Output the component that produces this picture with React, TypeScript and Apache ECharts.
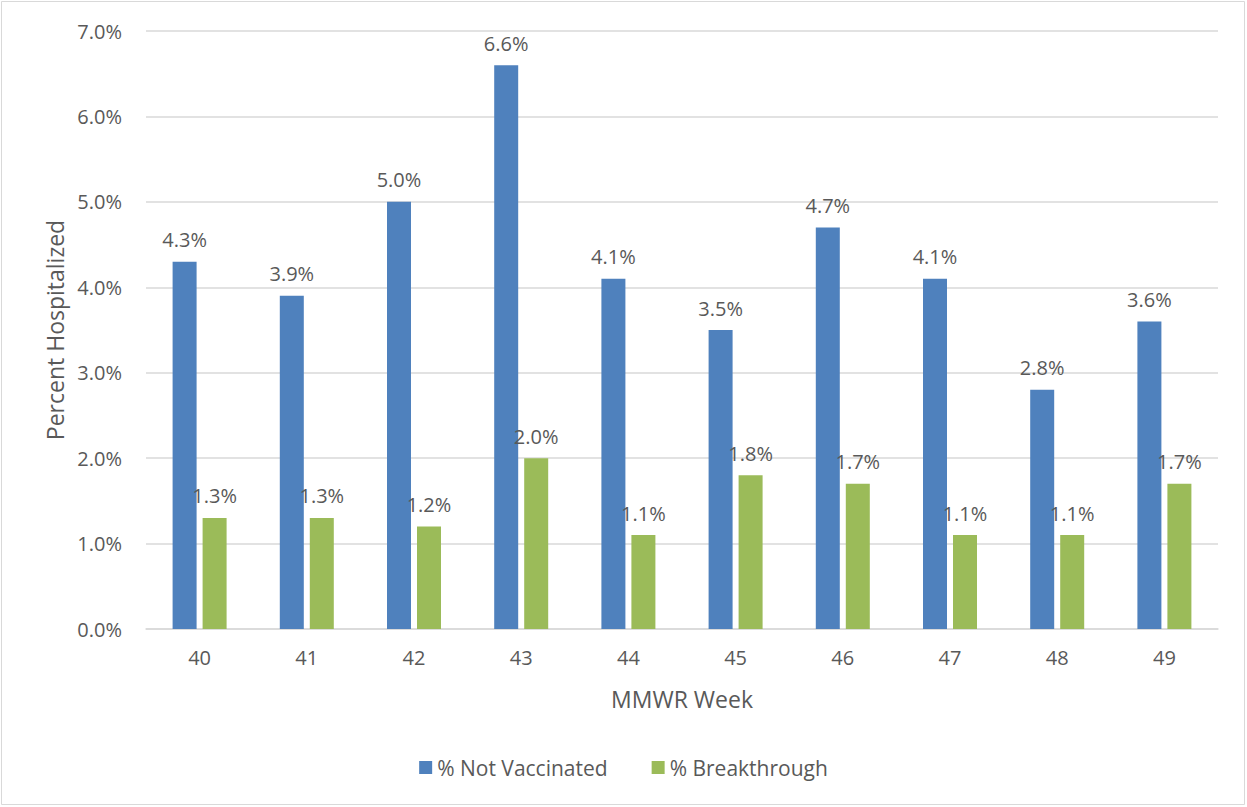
import React, { useEffect, useRef } from "react";
import * as echarts from "echarts";

const weeks = ["40", "41", "42", "43", "44", "45", "46", "47", "48", "49"];
const notVaccinated = [4.3, 3.9, 5.0, 6.6, 4.1, 3.5, 4.7, 4.1, 2.8, 3.6];
const breakthrough = [1.3, 1.3, 1.2, 2.0, 1.1, 1.8, 1.7, 1.1, 1.1, 1.7];
const seriesNames = ["% Not Vaccinated", "% Breakthrough"];

const FONT = "'Open Sans', sans-serif";
const TXT = "#595959";

export default function App() {
  const ref = useRef<HTMLDivElement>(null);
  useEffect(() => {
    const chart = echarts.init(ref.current!, null, { renderer: "svg" });
    const label = {
      show: true,
      position: "top",
      distance: 12,
      color: TXT,
      fontSize: 20,
      fontFamily: FONT,
      formatter: (p: any) => Number(p.value).toFixed(1) + "%",
    };
    chart.setOption({
      animation: false,
      textStyle: { fontFamily: FONT },
      graphic: [
        {
          type: "rect",
          shape: { x: 1.5, y: 1.5, width: 1243, height: 803 },
          style: { fill: "none", stroke: "#d9d9d9", lineWidth: 1 },
          silent: true,
        },
      ],
      grid: { left: 146, right: 29, top: 31, bottom: 178 },
      legend: {
        data: seriesNames,
        bottom: 24,
        left: "center",
        itemWidth: 13,
        itemHeight: 13,
        itemGap: 44,
        icon: "rect",
        textStyle: { color: TXT, fontSize: 21, fontFamily: FONT },
      },
      xAxis: {
        type: "category",
        data: weeks,
        name: "MMWR Week",
        nameLocation: "middle",
        nameGap: 58,
        nameTextStyle: { color: TXT, fontSize: 23, fontFamily: FONT },
        axisLine: { lineStyle: { color: "#d9d9d9", width: 1.5 } },
        axisTick: { show: false },
        axisLabel: { color: TXT, fontSize: 20, fontFamily: FONT, margin: 18 },
      },
      yAxis: {
        type: "value",
        min: 0,
        max: 7,
        interval: 1,
        name: "Percent Hospitalized",
        nameLocation: "middle",
        nameGap: 80,
        nameTextStyle: { color: TXT, fontSize: 23, fontFamily: FONT },
        axisLine: { show: false },
        axisTick: { show: false },
        splitLine: { lineStyle: { color: "#d9d9d9", width: 1.5 } },
        axisLabel: {
          color: TXT,
          fontSize: 20,
          fontFamily: FONT,
          margin: 24,
          formatter: (v: number) => v.toFixed(1) + "%",
        },
      },
      series: [
        {
          name: seriesNames[0],
          type: "bar",
          data: notVaccinated,
          barWidth: 24,
          barGap: "25%",
          itemStyle: { color: "#4f81bd" },
          label,
        },
        {
          name: seriesNames[1],
          type: "bar",
          data: breakthrough,
          barWidth: 24,
          itemStyle: { color: "#9bbb59" },
          label,
        },
      ],
    });
    return () => chart.dispose();
  }, []);
  return (
    <div
      ref={ref}
      style={{ position: "fixed", left: 0, top: 0, width: 1247, height: 807, background: "#fff" }}
    />
  );
}
